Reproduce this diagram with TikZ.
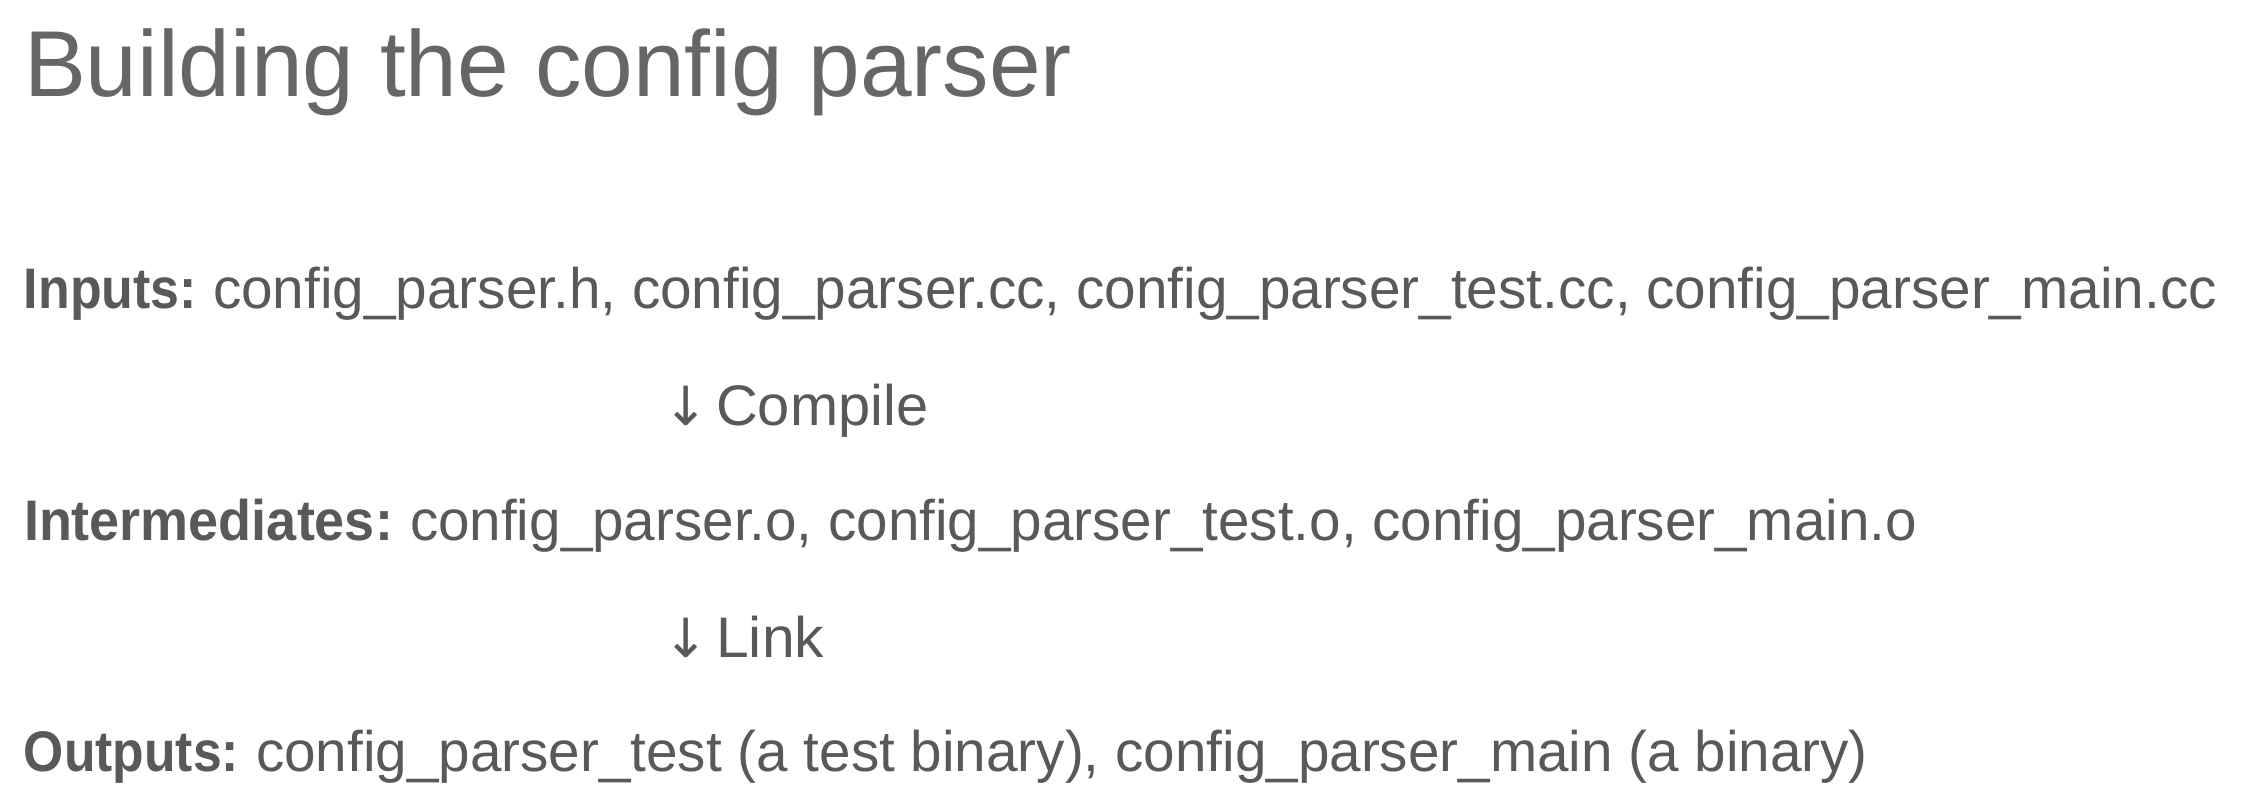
\documentclass[tikz,border=0pt]{standalone}
\usepackage{fontspec}
\setmainfont{Liberation Sans}
\newfontfamily\arrowfont{DejaVu Sans}
\usepackage{graphicx}
\definecolor{titlegray}{HTML}{666666}
\definecolor{bodygray}{HTML}{595959}
\newcommand{\fitw}[2]{\resizebox{#1}{\height}{#2}}
\newcommand{\downarr}{{\arrowfont\fontsize{27pt}{34pt}\selectfont ↓}}
\tikzset{
  heading/.style={anchor=base west, inner sep=0pt, outer sep=0pt, text=titlegray,
    font=\fontsize{46.8pt}{56pt}\selectfont},
  bodyline/.style={anchor=base west, inner sep=0pt, outer sep=0pt, text=bodygray,
    font=\fontsize{28.6pt}{34pt}\selectfont}
}
\begin{document}
\begin{tikzpicture}[x=0.5pt,y=-0.5pt]
\useasboundingbox (0,0) rectangle (2258,810);
\node[heading] (title) at (24,96) {\fitw{524pt}{Building the config parser}};
\node[bodyline] (inputs) at (24,308) {\fitw{86.5pt}{\textbf{Inputs:}}\hspace{8pt}\fitw{1002pt}{config\_parser.h, config\_parser.cc, config\_parser\_test.cc, config\_parser\_main.cc}};
\node[bodyline] (compile) at (663,425) {\downarr\hspace{4pt}\fitw{106pt}{Compile}};
\node[bodyline] (inter) at (24,540) {\fitw{184.5pt}{\textbf{Intermediates:}}\hspace{8.5pt}\fitw{753.5pt}{config\_parser.o, config\_parser\_test.o, config\_parser\_main.o}};
\node[bodyline] (link) at (663,657) {\downarr\hspace{4pt}\fitw{54pt}{Link}};
\node[bodyline] (outputs) at (24,771) {\fitw{107.5pt}{\textbf{Outputs:}}\hspace{8.5pt}\fitw{806pt}{config\_parser\_test (a test binary), config\_parser\_main (a binary)}};
\end{tikzpicture}
\end{document}
